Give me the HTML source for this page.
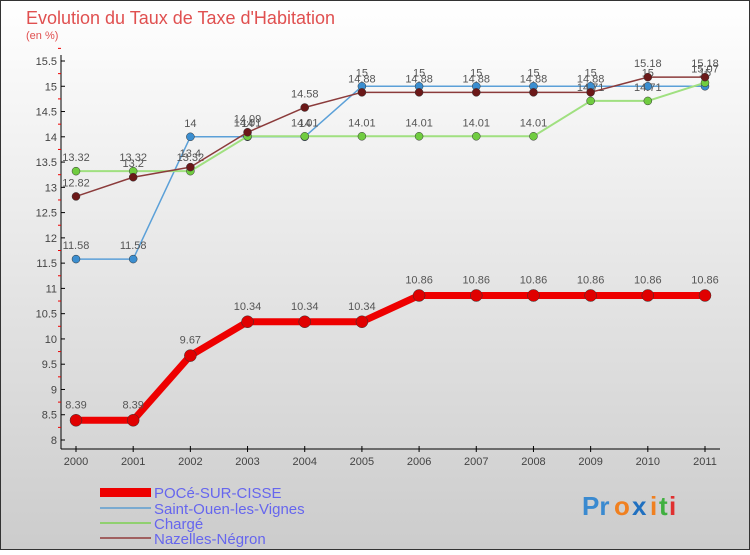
<!DOCTYPE html>
<html><head><meta charset="utf-8"><style>
body{margin:0;}
svg text{font-family:"Liberation Sans",sans-serif;}
</style></head><body>
<svg id="c" width="750" height="550" xmlns="http://www.w3.org/2000/svg">
<defs><linearGradient id="bg" x1="0" y1="0" x2="0" y2="1"><stop offset="0" stop-color="#ffffff"/><stop offset="1" stop-color="#cccccc"/></linearGradient></defs>
<rect x="0.5" y="0.5" width="749" height="549" fill="url(#bg)" stroke="#333"/>
<text x="26" y="24" font-size="18" fill="#e05050">Evolution du Taux de Taxe d'Habitation</text>
<text x="26" y="39" font-size="11" fill="#e05050">(en %)</text>
<g id="axes"></g><g id="series"></g>
<g>
<rect x="100" y="488" width="51" height="9" fill="#e00"/>
<text x="154" y="498" font-size="15" fill="#6666ee">POCé-SUR-CISSE</text>
<line x1="100" y1="508" x2="151" y2="508" stroke="#7aaad0" stroke-width="2"/>
<text x="154" y="514" font-size="15" fill="#6666ee">Saint-Ouen-les-Vignes</text>
<line x1="100" y1="523" x2="151" y2="523" stroke="#90d070" stroke-width="2"/>
<text x="154" y="529" font-size="15" fill="#6666ee">Chargé</text>
<line x1="100" y1="538" x2="151" y2="538" stroke="#a06060" stroke-width="2"/>
<text x="154" y="544" font-size="15" fill="#6666ee">Nazelles-Négron</text>
</g>
<g font-size="26" font-weight="bold">
<text x="582" y="515" fill="#3a8ad0">Pr</text><text x="614" y="515" fill="#f08020">o</text><text x="632" y="515" fill="#2070c0">x</text><text x="650" y="515" fill="#f08020">i</text><text x="659" y="515" fill="#40b040">t</text><text x="669" y="515" fill="#e03030">i</text>
</g>
</svg>
<script>
const years=["2000","2001","2002","2003","2004","2005","2006","2007","2008","2009","2010","2011"];
const poce=[8.39,8.39,9.67,10.34,10.34,10.34,10.86,10.86,10.86,10.86,10.86,10.86];
const saintOuen=[11.58,11.58,14,14,14,15,15,15,15,15,15,15];
const charge=[13.32,13.32,13.32,14.01,14.01,14.01,14.01,14.01,14.01,14.71,14.71,15.07];
const nazelles=[12.82,13.2,13.4,14.09,14.58,14.88,14.88,14.88,14.88,14.88,15.18,15.18];
const yTicks=[8,8.5,9,9.5,10,10.5,11,11.5,12,12.5,13,13.5,14,14.5,15,15.5];
const NS="http://www.w3.org/2000/svg";
const X=i=>76+i*(705-76)/11;
const Y=v=>440-(v-8)*(440-61)/7.5;
function mk(p,t,a){const e=document.createElementNS(NS,t);for(const k in a)e.setAttribute(k,a[k]);p.appendChild(e);return e;}
const ax=document.getElementById('axes'),sr=document.getElementById('series');
let yl=mk(ax,'line',{x1:61,y1:55,x2:61,y2:449,stroke:'#000'});


let xl=mk(ax,'line',{x1:61,y1:449,x2:720,y2:449,stroke:'#000'});


yTicks.forEach(v=>{
 const y=Y(v);
 mk(ax,'line',{x1:61,y1:y,x2:65,y2:y,stroke:'#000'});
 mk(ax,'line',{x1:58,y1:Y(v+0.25),x2:61,y2:Y(v+0.25),stroke:'#e00'});
 const t=mk(ax,'text',{x:57,y:y+4,'font-size':11,'text-anchor':'end',fill:'#444'});
 t.textContent=String(v);
 
 
});
years.forEach((yr,i)=>{
 const x=X(i);
 mk(ax,'line',{x1:x,y1:446,x2:x,y2:452,stroke:'#000'});
 const t=mk(ax,'text',{x:x,y:465,'font-size':11,'text-anchor':'middle',fill:'#444'});
 t.textContent=yr;
 
 
});
function series(vals,name,color,dot,w,r,labelOff){
 const g=mk(sr,'g',{});
 
 
 const p=mk(g,'polyline',{points:vals.map((v,i)=>X(i)+','+Y(v)).join(' '),fill:'none',stroke:color,'stroke-width':w,'stroke-linejoin':'round'});
 
 
 vals.forEach((v,i)=>{
  const c=mk(g,'circle',{cx:X(i),cy:Y(v),r:r,fill:dot,stroke:'#333','stroke-width':0.5});
  
  
  const t=mk(g,'text',{x:X(i),y:Y(v)-labelOff,'font-size':11,'text-anchor':'middle',fill:'#555'});
  t.textContent=String(v);
  
  
 });
}
series(saintOuen,'saint-ouen','#5ba0d8','#3b8ed0',1.5,4,10);
series(charge,'charge','#a0e080','#70cc40',2,4,10);
series(nazelles,'nazelles','#8b3b3b','#6b1818',1.5,4,10);
series(poce,'poce','#ee0000','#e00000',7,6,12);
</script>
</body></html>
